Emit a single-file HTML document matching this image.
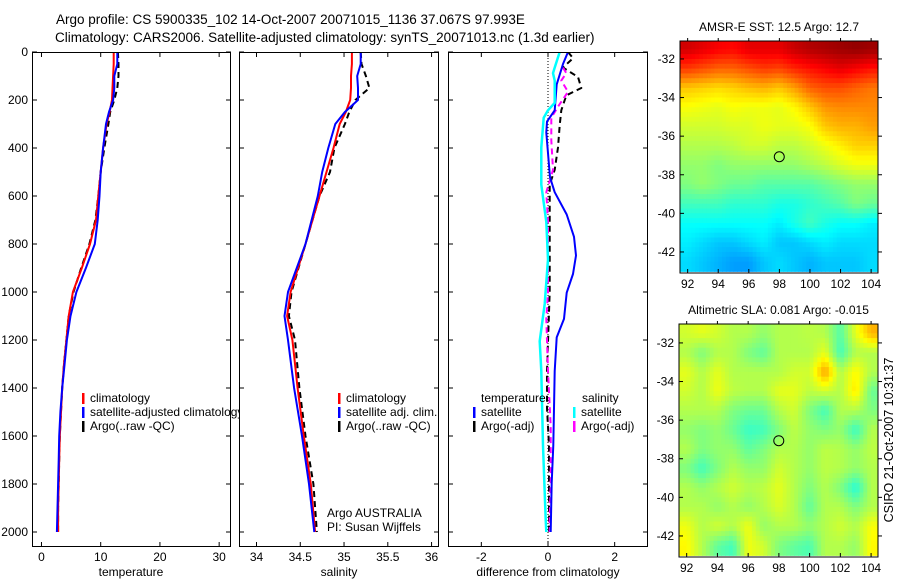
<!DOCTYPE html>
<html><head><meta charset="utf-8"><style>
body{margin:0;background:#fff}
svg{display:block;font-family:"Liberation Sans",sans-serif}
</style></head><body>
<svg id="chart" width="900" height="580" viewBox="0 0 900 580" xmlns="http://www.w3.org/2000/svg">
<defs>
<clipPath id="c1"><rect x="32" y="52" width="199" height="495"/></clipPath>
<clipPath id="c2"><rect x="239" y="52" width="200" height="495"/></clipPath>
<clipPath id="c3"><rect x="448" y="52" width="200" height="495"/></clipPath>
<clipPath id="cm1"><rect x="680" y="41" width="198" height="232"/></clipPath>
<clipPath id="cm2"><rect x="679" y="324" width="199" height="233"/></clipPath>
</defs>
<text x="56" y="24" font-size="13.5">Argo profile: CS 5900335_102 14-Oct-2007 20071015_1136 37.067S 97.993E</text>
<text x="55" y="42" font-size="13.5">Climatology: CARS2006. Satellite-adjusted climatology: synTS_20071013.nc (1.3d earlier)</text>
<text transform="translate(893,440) rotate(-90)" text-anchor="middle" font-size="12.5">CSIRO 21-Oct-2007 10:31:37</text>
<g id="root"></g>
</svg>
<script>
// ---- data ----
const depthT = [0,50,100,150,200,250,300,400,500,600,700,800,900,1000,1100,1200,1300,1400,1500,1600,1700,1800,1900,2000];
const tempClim = [12.2,12.2,12.1,12.0,11.9,11.5,11.0,10.4,10.0,9.6,9.2,8.2,6.8,5.3,4.6,4.2,3.8,3.5,3.3,3.1,3.0,2.9,2.8,2.8];
const tempSat = [12.8,12.8,12.3,12.3,12.1,11.4,10.9,10.4,10.0,9.8,9.5,9.0,7.5,5.9,4.9,4.3,3.9,3.5,3.2,3.0,2.9,2.8,2.7,2.6];
const tempArgo = [12.9,13.0,13.0,12.8,12.3,11.6,11.3,10.6,10.0,9.6,9.1,8.1,6.7,5.4,4.6,4.2,3.8,3.5,3.3,3.1,3.0,2.9,2.8,2.8];
const depthS = [0,50,100,150,200,250,300,400,500,600,800,1000,1100,1200,1400,1600,1800,2000];
const salClim = [35.09,35.09,35.08,35.08,35.07,35.02,34.95,34.88,34.80,34.72,34.56,34.39,34.35,34.41,34.47,34.54,34.62,34.67];
const salSat = [35.19,35.19,35.15,35.16,35.16,35.01,34.90,34.82,34.75,34.70,34.56,34.36,34.32,34.36,34.43,34.52,34.60,34.66];
const salArgo = [35.19,35.20,35.25,35.29,35.13,35.06,35.01,34.89,34.84,34.72,34.56,34.40,34.37,34.44,34.49,34.56,34.65,34.69];
const dTsatDepth = [0,50,135,243,290,336,522,584,677,770,848,925,1003,1112,1189,1329,1639,1794,2000];
const dTsat = [0.6,0.45,0.26,0.2,-0.03,-0.05,0.06,0.2,0.56,0.78,0.84,0.75,0.56,0.48,0.26,0.2,0.16,0.11,0.08];
const dTargoDepth = [0,26,65,104,150,181,243,305,398,491,553,708,1000,1329,1484,1639,1794,2000];
const dTargo = [0.6,0.75,0.45,0.9,1.0,0.55,0.4,0.35,0.3,0.2,0.05,0.05,0.05,-0.03,-0.03,0.03,0.03,0.03];
const dSsatDepth = [0,65,88,119,212,243,274,398,553,708,864,1050,1205,1329,1639,1949,2000];
const dSsat = [0.35,0.2,0.15,0.2,0.2,0.0,-0.13,-0.2,-0.2,-0.05,0.0,-0.1,-0.25,-0.2,-0.15,-0.07,-0.05];
const dSargoDepth = [65,88,119,166,228,274,367,491,584,708,864,1003,1112,1329,1561,1794,1949,2000];
const dSargo = [0.45,0.55,0.4,0.6,0.3,0.1,0.1,0.15,-0.05,0.0,0.0,0.0,-0.05,0.0,0.08,0.08,0.05,0.05];
const depthTicks = [0,200,400,600,800,1000,1200,1400,1600,1800,2000];
const tempTicks = [0,10,20,30];
const salTicks = [34,34.5,35,35.5,36];
const salTickLabels = ["34","34.5","35","35.5","36"];
const diffTicks = [-2,0,2];
const mapLons = [92,93,94,95,96,97,98,99,100,101,102,103,104];
const mapLats = [-31.5,-32.5,-33.5,-34.5,-35.5,-36.5,-37.5,-38.5,-39.5,-40.5,-41.5,-42.5];
const sstGrid = [
[0.92,0.9,0.88,0.87,0.9,0.9,0.9,0.93,0.95,0.96,0.97,0.98,0.97],
[0.82,0.8,0.78,0.78,0.8,0.82,0.81,0.84,0.86,0.88,0.9,0.88,0.86],
[0.68,0.67,0.66,0.67,0.69,0.7,0.68,0.72,0.78,0.8,0.8,0.78,0.76],
[0.62,0.61,0.6,0.62,0.61,0.61,0.6,0.63,0.68,0.73,0.74,0.74,0.74],
[0.58,0.58,0.58,0.59,0.59,0.61,0.6,0.6,0.62,0.68,0.7,0.7,0.72],
[0.55,0.55,0.55,0.56,0.58,0.58,0.56,0.56,0.58,0.61,0.64,0.67,0.67],
[0.52,0.52,0.5,0.52,0.52,0.52,0.52,0.52,0.54,0.56,0.59,0.61,0.61],
[0.5,0.52,0.5,0.48,0.48,0.46,0.46,0.46,0.46,0.48,0.5,0.52,0.52],
[0.44,0.44,0.44,0.42,0.42,0.42,0.4,0.4,0.42,0.44,0.46,0.5,0.48],
[0.38,0.38,0.38,0.38,0.38,0.38,0.36,0.4,0.44,0.4,0.38,0.38,0.36],
[0.36,0.34,0.32,0.32,0.34,0.36,0.32,0.32,0.34,0.36,0.34,0.34,0.34],
[0.34,0.32,0.3,0.28,0.28,0.32,0.34,0.32,0.3,0.32,0.32,0.32,0.34]];
const slaGrid = [
[.58,.6,.58,.55,.55,.52,.55,.55,.56,.55,.46,.6,.7],
[.55,.5,.55,.55,.5,.47,.55,.55,.55,.6,.44,.55,.55],
[.6,.55,.6,.55,.55,.55,.55,.58,.58,.72,.55,.63,.55],
[.58,.55,.61,.56,.55,.55,.6,.6,.56,.58,.55,.65,.48],
[.55,.55,.55,.5,.48,.48,.55,.58,.5,.44,.55,.55,.5],
[.52,.5,.52,.48,.43,.44,.5,.56,.52,.5,.52,.43,.55],
[.55,.5,.52,.52,.47,.5,.55,.55,.52,.56,.55,.52,.56],
[.5,.44,.5,.55,.52,.52,.58,.55,.52,.56,.55,.52,.55],
[.55,.52,.55,.58,.55,.56,.6,.55,.5,.55,.5,.41,.55],
[.55,.55,.52,.55,.52,.55,.59,.55,.47,.55,.55,.5,.55],
[.61,.55,.58,.55,.61,.52,.55,.55,.52,.55,.58,.55,.62],
[.63,.55,.47,.44,.61,.58,.5,.47,.45,.55,.55,.52,.63]];
const latTicks = [-32,-34,-36,-38,-40,-42];
const lonTicks = [92,94,96,98,100,102,104];
const argoLon = [97.993];
const argoLat = [-37.067];

// ---- helpers ----
const NS="http://www.w3.org/2000/svg";
const root=document.getElementById('root');
function mk(tag,attrs,parent){const e=document.createElementNS(NS,tag);for(const k in attrs)e.setAttribute(k,attrs[k]);(parent||root).appendChild(e);return e;}
function txt(x,y,s,size,anchor,parent){const t=mk('text',{x:x,y:y,'font-size':size||12,'text-anchor':anchor||'start'},parent);t.textContent=s;return t;}
const Y0=52, YS=0.24;
function yD(d){return Y0+d*YS;}

function panel(id,x0,w,vmin,vmax,clip){
  const g=mk('g',{});
  
  
  mk('rect',{x:x0,y:52,width:w,height:495,fill:'#fff',stroke:'none'},g);
  const sx=v=>x0+(v-vmin)/(vmax-vmin)*w;
  const lines=mk('g',{'clip-path':'url(#'+clip+')'},g);
  return {g,sx,lines,x0,w};
}
function drawLine(p,depths,vals,color,dash,name,width){
  let d='';
  for(let i=0;i<vals.length;i++){d+=(i?'L':'M')+p.sx(vals[i]).toFixed(1)+' '+yD(depths[i]).toFixed(1);}
  const e=mk('path',{d:d,fill:'none',stroke:color,'stroke-width':width||2,'stroke-dasharray':dash||'none','stroke-linejoin':'round'},p.lines);
  
  
}
function frame(p,xt,xl,showY){
  const g=p.g;
  for(const d of depthTicks){const y=yD(d);
    mk('line',{x1:p.x0,y1:y,x2:p.x0+5,y2:y,stroke:'#000'},g);
    mk('line',{x1:p.x0+p.w,y1:y,x2:p.x0+p.w-5,y2:y,stroke:'#000'},g);
    if(showY){const t=txt(p.x0-4,y+4,String(d),12,'end',g);}
  }
  xt.forEach((v,i)=>{const x=p.sx(v);
    mk('line',{x1:x,y1:52,x2:x,y2:57,stroke:'#000'},g);
    mk('line',{x1:x,y1:547,x2:x,y2:542,stroke:'#000'},g);
    const t=txt(x,561,xl[i],12,'middle',g);
  });
  mk('rect',{x:p.x0+0.5,y:52.5,width:p.w-1,height:494,fill:'none',stroke:'#000'},g);
}
function legendRow(g,mx,y,color,label){
  mk('rect',{x:mx,y:y-9,width:2.5,height:11,fill:color},g);
  if(label){const t=txt(mx+8,y,label,12,'start',g);}
}

// Panel 1 temperature
const p1=panel('temperature-panel',32,199,-1.6,32,'c1');
drawLine(p1,depthT,tempArgo,'#000','6,4','temp-argo-line');
drawLine(p1,depthT,tempClim,'#f00',null,'temp-climatology-line');
drawLine(p1,depthT,tempSat,'#00f',null,'temp-satellite-line');
frame(p1,tempTicks,tempTicks.map(String),true);
legendRow(p1.g,82,402,'#f00','climatology');
legendRow(p1.g,82,416,'#00f','satellite-adjusted climatology');
legendRow(p1.g,82,430,'#000','Argo(..raw -QC)');
const xl1=txt(131,576,'temperature',12,'middle',p1.g);

// Panel 2 salinity
const p2=panel('salinity-panel',239,200,33.80,36.085,'c2');
drawLine(p2,depthS,salArgo,'#000','6,4','sal-argo-line');
drawLine(p2,depthS,salClim,'#f00',null,'sal-climatology-line');
drawLine(p2,depthS,salSat,'#00f',null,'sal-satellite-line');
frame(p2,salTicks,salTickLabels,false);
legendRow(p2.g,338,402,'#f00','climatology');
legendRow(p2.g,338,416,'#00f','satellite adj. clim.');
legendRow(p2.g,338,430,'#000','Argo(..raw -QC)');
txt(327,517,'Argo AUSTRALIA',12,'start',p2.g);
txt(327,531,'PI: Susan Wijffels',12,'start',p2.g);
const xl2=txt(339,576,'salinity',12,'middle',p2.g);

// Panel 3 difference
const p3=panel('difference-panel',448,200,-3,3,'c3');
mk('line',{x1:p3.sx(0),y1:52,x2:p3.sx(0),y2:547,stroke:'#000','stroke-dasharray':'1,2'},p3.lines);
drawLine(p3,dTargoDepth,dTargo,'#000','6,4','diff-temp-argo-line');
drawLine(p3,dSargoDepth,dSargo,'#f0f','6,4','diff-sal-argo-line');
drawLine(p3,dTsatDepth,dTsat,'#00f',null,'diff-temp-satellite-line');
drawLine(p3,dSsatDepth,dSsat,'#0ff',null,'diff-sal-satellite-line',2.5);
frame(p3,diffTicks,diffTicks.map(String),false);
txt(481,402,'temperature',12,'start',p3.g);
legendRow(p3.g,473,416,'#00f','satellite');
legendRow(p3.g,473,430,'#000','Argo(-adj)');
txt(582,402,'salinity',12,'start',p3.g);
legendRow(p3.g,573,416,'#0ff','satellite');
legendRow(p3.g,573,430,'#f0f','Argo(-adj)');
const xl3=txt(548,576,'difference from climatology',12,'middle',p3.g);

// ---- maps ----
function jet(v){const c=t=>Math.round(255*Math.max(0,Math.min(1,t)));
  return 'rgb('+c(1.5-Math.abs(4*v-3))+','+c(1.5-Math.abs(4*v-2))+','+c(1.5-Math.abs(4*v-1))+')';}
function drawMap(name,grid,x0,x1,y0,y1,lonMin,lonMax,latTop,latBot,clip,title){
  const g=mk('g',{});
  
  
  const sx=l=>x0+(l-lonMin)/(lonMax-lonMin)*(x1-x0);
  const sy=l=>y0+(latTop-l)/(latTop-latBot)*(y1-y0);
  const cells=mk('g',{'clip-path':'url(#'+clip+')'},g);
  const N=4, R=grid.length, C=grid[0].length;
  for(let i=0;i<R;i++)for(let j=0;j<C;j++){
    for(let a=0;a<N;a++)for(let b=0;b<N;b++){
      const fi=i+(a+0.5)/N-0.5, fj=j+(b+0.5)/N-0.5;
      const i0=Math.max(0,Math.min(R-1,Math.floor(fi))), i1=Math.min(R-1,i0+1);
      const j0=Math.max(0,Math.min(C-1,Math.floor(fj))), j1=Math.min(C-1,j0+1);
      const ti=Math.max(0,Math.min(1,fi-i0)), tj=Math.max(0,Math.min(1,fj-j0));
      const v=(grid[i0][j0]*(1-tj)+grid[i0][j1]*tj)*(1-ti)+(grid[i1][j0]*(1-tj)+grid[i1][j1]*tj)*ti;
      const lx=mapLons[j]-0.5+b/N, ly=mapLats[i]+0.5-a/N;
      const xa=sx(lx), ya=sy(ly);
      const r=mk('rect',{x:xa.toFixed(2),y:ya.toFixed(2),width:((x1-x0)/(lonMax-lonMin)/N+0.6).toFixed(2),height:((y1-y0)/(latTop-latBot)/N+0.6).toFixed(2),fill:jet(v)},cells);
      
      
    }
  }
  const c=mk('circle',{cx:sx(argoLon[0]),cy:sy(argoLat[0]),r:5,fill:'none',stroke:'#000'},g);
  
  
  for(const l of latTicks){const y=sy(l);
    mk('line',{x1:x0,y1:y,x2:x0+4,y2:y,stroke:'#000'},g);
    mk('line',{x1:x1,y1:y,x2:x1+4,y2:y,stroke:'#000'},g);
    const t=txt(x0-5,y+4,String(l),12,'end',g);}
  for(const l of lonTicks){const x=sx(l);
    mk('line',{x1:x,y1:y0,x2:x,y2:y0-3,stroke:'#000'},g);
    mk('line',{x1:x,y1:y1,x2:x,y2:y1-4,stroke:'#000'},g);
    const t=txt(x,y1+15,String(l),12,'middle',g);}
  mk('rect',{x:x0,y:y0,width:x1-x0,height:y1-y0,fill:'none',stroke:'#000'},g);
  const tt=txt((x0+x1)/2,y0-10,title,12,'middle',g);
  
  
}
drawMap('sst-map',sstGrid,680,878,41,273,91.5,104.45,-31.07,-43.09,'cm1','AMSR-E SST: 12.5 Argo: 12.7');
drawMap('sla-map',slaGrid,679,878,324,557,91.5,104.45,-31.02,-43.09,'cm2','Altimetric SLA: 0.081 Argo: -0.015');
</script>
</body></html>
